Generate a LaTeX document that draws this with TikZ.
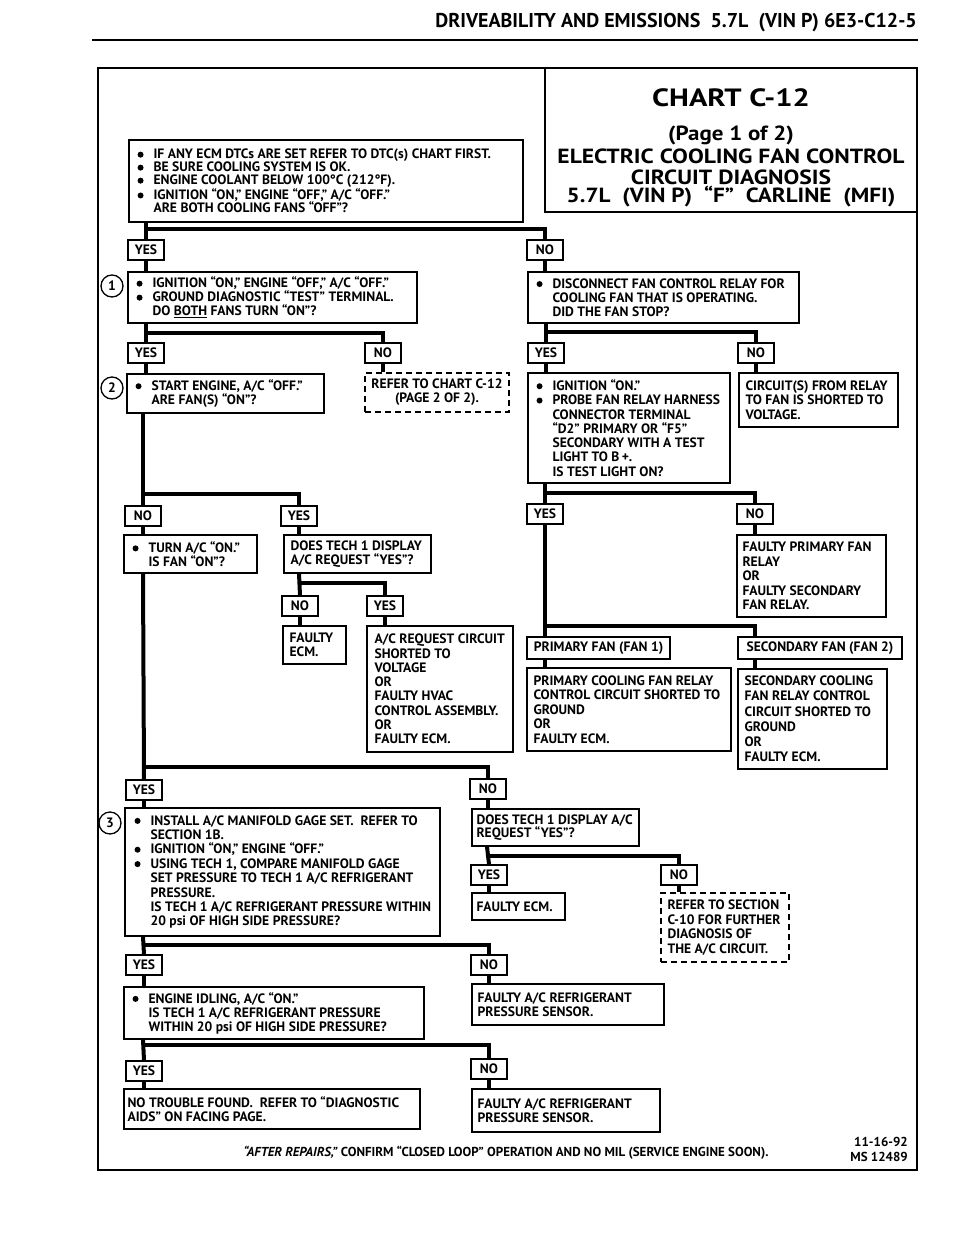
\documentclass[tikz,border=0pt]{standalone}
\usepackage{fontspec}
\setmainfont{PT Sans}
\usetikzlibrary{fit}
\newcommand\bigdot{\tikz[baseline=-4.2pt]\fill (0,0) circle (3pt);}
\newcommand\bul{\makebox[16pt][l]{\bigdot}}
\newcommand\indt{\hspace*{16pt}}
\newcommand\bx[6][box]{\node[#1, fit={(#3,#4) (#5,#6)}] (#2) {};}
\newcommand\tx[4]{\node[txt, font=\bfseries\fontsize{13.6}{#2}\selectfont] (t#1) at ([xshift=#3pt]#1.west) {#4};}
\newcommand\wide[2]{\scalebox{#1}[1]{#2}}
\begin{document}
\begin{tikzpicture}[x=1pt,y=-1pt,
 f12/.style={font=\bfseries\fontsize{13.6}{14}\selectfont},
 box/.style={draw, line width=1.3pt, inner sep=0pt},
 dbox/.style={box, dash pattern=on 6pt off 4pt},
 lab/.style={draw, line width=1.3pt, minimum width=36pt, minimum height=20pt, inner sep=0pt, f12},
 txt/.style={anchor=west, align=left, inner sep=0pt},
 conn/.style={line width=4pt},
 num/.style={circle, draw, line width=1.3pt, minimum size=22pt, inner sep=0pt, f12},
 ttl/.style={inner sep=0pt, font=\bfseries\fontsize{20.5}{22}\selectfont}
]
\useasboundingbox (0,0) rectangle (960,1250);
% header
\node[anchor=east, inner sep=0pt, font=\bfseries\fontsize{20}{22}\selectfont] (hdr) at (917,23) {DRIVEABILITY AND EMISSIONS\ \ 5.7L\ \ (VIN P) 6E3-C12-5};
\draw[line width=2.5pt] (92,40) -- (918,40);
% frame and title
\bx[box, line width=1.5pt]{title}{545}{68}{917}{212}
\draw[line width=2.5pt] (98,68) rectangle (917,1170);
\node[inner sep=0pt, font=\bfseries\fontsize{25}{28}\selectfont] (tt1) at (731,98) {\wide{1.22}{CHART C-12}};
\node[ttl] (tt2) at (731,135) {\wide{1.12}{(Page 1 of 2)}};
\node[ttl] (tt3) at (731,156) {\wide{1.15}{ELECTRIC COOLING FAN CONTROL}};
\node[ttl] (tt4) at (731,177) {\wide{1.15}{CIRCUIT DIAGNOSIS}};
\node[ttl] (tt5) at (731,197) {\wide{1.13}{5.7L\ \ (VIN P)\ \ “F”\ \ CARLINE\ \ (MFI)}};

% boxes
\bx{b0}{129}{140}{523}{222}
\tx{b0}{13}{9}{\bul IF ANY ECM DTCs ARE SET REFER TO DTC(s) CHART FIRST.\\
\bul BE SURE COOLING SYSTEM IS OK.\\
\bul ENGINE COOLANT BELOW 100°C (212°F).\\
\bul IGNITION “ON,” ENGINE “OFF,” A/C “OFF.”\\
\indt ARE BOTH COOLING FANS “OFF”?}

\bx{b1}{128}{272}{417}{323}
\tx{b1}{14}{9}{\bul IGNITION “ON,” ENGINE “OFF,” A/C “OFF.”\\
\bul GROUND DIAGNOSTIC “TEST” TERMINAL.\\
\indt DO \underline{BOTH} FANS TURN “ON”?}
\node[num] (c1) at (112,286) {1};

\bx{bR1}{528}{272}{799}{323}
\tx{bR1}{14}{9}{\bul DISCONNECT FAN CONTROL RELAY FOR\\
\indt COOLING FAN THAT IS OPERATING.\\
\indt DID THE FAN STOP?}

\bx{b2}{127}{374}{324}{413}
\tx{b2}{14}{9}{\bul START ENGINE, A/C “OFF.”\\
\indt ARE FAN(S) “ON”?}
\node[num] (c2) at (112,388) {2};

\bx[dbox]{bref1}{365}{373}{509}{412}
\node[f12, align=center, inner sep=0pt] (tbref1) at (bref1.center) {REFER TO CHART C-12\\(PAGE 2 OF 2).};

\bx{bR2}{528}{373}{730}{483}
\tx{bR2}{14.3}{9}{\bul IGNITION “ON.”\\
\bul PROBE FAN RELAY HARNESS\\
\indt CONNECTOR TERMINAL\\
\indt “D2” PRIMARY OR “F5”\\
\indt SECONDARY WITH A TEST\\
\indt LIGHT TO B\,+.\\
\indt IS TEST LIGHT ON?}

\bx{bR3}{739}{373}{898}{427}
\tx{bR3}{14.5}{7}{CIRCUIT(S) FROM RELAY\\TO FAN IS SHORTED TO\\VOLTAGE.}

\bx{bt}{124}{535}{257}{573}
\tx{bt}{13.5}{9}{\bul TURN A/C “ON.”\\
\indt IS FAN “ON”?}

\bx{bd1}{284}{535}{431}{573}
\tx{bd1}{13.5}{7}{DOES TECH 1 DISPLAY\\A/C REQUEST “YES”?}

\bx{bfe}{283}{626}{346}{664}
\tx{bfe}{13.5}{7}{FAULTY\\ECM.}

\bx{bac}{367}{626}{513}{752}
\tx{bac}{14.3}{8}{A/C REQUEST CIRCUIT\\SHORTED TO\\VOLTAGE\\OR\\FAULTY HVAC\\CONTROL ASSEMBLY.\\OR\\FAULTY ECM.}

\bx{bfp}{737}{535}{886}{617}
\tx{bfp}{14.5}{6}{FAULTY PRIMARY FAN\\RELAY\\OR\\FAULTY SECONDARY\\FAN RELAY.}

\bx{lpf}{527}{637}{670}{659}
\node[f12, inner sep=0pt] (tlpf) at (lpf.center) {PRIMARY FAN (FAN 1)};
\bx{lsf}{738}{637}{902}{659}
\node[f12, inner sep=0pt] (tlsf) at (lsf.center) {SECONDARY FAN (FAN 2)};

\bx{bpc}{527}{668}{731}{751}
\tx{bpc}{14.5}{7}{PRIMARY COOLING FAN RELAY\\CONTROL CIRCUIT SHORTED TO\\GROUND\\OR\\FAULTY ECM.}

\bx{bsc}{738}{669}{887}{769}
\tx{bsc}{15.2}{7}{SECONDARY COOLING\\FAN RELAY CONTROL\\CIRCUIT SHORTED TO\\GROUND\\OR\\FAULTY ECM.}

\bx{b3}{125}{808}{440}{936}
\tx{b3}{14.4}{10}{\bul INSTALL A/C MANIFOLD GAGE SET.\ \ REFER TO\\
\indt SECTION 1B.\\
\bul IGNITION “ON,” ENGINE “OFF.”\\
\bul USING TECH 1, COMPARE MANIFOLD GAGE\\
\indt SET PRESSURE TO TECH 1 A/C REFRIGERANT\\
\indt PRESSURE.\\
\indt IS TECH 1 A/C REFRIGERANT PRESSURE WITHIN\\
\indt 20 psi OF HIGH SIDE PRESSURE?}
\node[num] (c3) at (110,823) {3};

\bx{bd2}{472}{809}{639}{846}
\tx{bd2}{13.5}{5}{DOES TECH 1 DISPLAY A/C\\REQUEST “YES”?}

\bx{bfe2}{472}{893}{565}{920}
\tx{bfe2}{14}{5}{FAULTY ECM.}

\bx[dbox]{bref2}{661}{893}{789}{962}
\tx{bref2}{14.6}{7}{REFER TO SECTION\\C-10 FOR FURTHER\\DIAGNOSIS OF\\THE A/C CIRCUIT.}

\bx{bidle}{124}{987}{424}{1039}
\tx{bidle}{14}{9}{\bul ENGINE IDLING, A/C “ON.”\\
\indt IS TECH 1 A/C REFRIGERANT PRESSURE\\
\indt WITHIN 20 psi OF HIGH SIDE PRESSURE?}

\bx{bfa1}{472}{984}{664}{1025}
\tx{bfa1}{14}{6}{FAULTY A/C REFRIGERANT\\PRESSURE SENSOR.}

\bx{bntf}{124}{1089}{420}{1129}
\tx{bntf}{13.5}{4}{NO TROUBLE FOUND.\ \ REFER TO “DIAGNOSTIC\\AIDS” ON FACING PAGE.}

\bx{bfa2}{472}{1089}{660}{1132}
\tx{bfa2}{14}{6}{FAULTY A/C REFRIGERANT\\PRESSURE SENSOR.}

% labels
\node[lab] (y0) at (146,250) {YES};
\node[lab] (n0) at (545,250) {NO};
\node[lab] (y1) at (146,353) {YES};
\node[lab] (n1) at (383,353) {NO};
\node[lab] (yR) at (546,353) {YES};
\node[lab] (nR) at (756,353) {NO};
\node[lab] (n2) at (143,516) {NO};
\node[lab] (y2) at (299,516) {YES};
\node[lab] (nd) at (300,606) {NO};
\node[lab] (yd) at (385,606) {YES};
\node[lab] (yR2) at (545,514) {YES};
\node[lab] (nR2) at (755,514) {NO};
\node[lab] (y3) at (144,790) {YES};
\node[lab] (n3) at (488,789) {NO};
\node[lab] (yd2) at (489,875) {YES};
\node[lab] (nd2) at (679,875) {NO};
\node[lab] (y4) at (144,965) {YES};
\node[lab] (n4) at (489,965) {NO};
\node[lab] (y5) at (144,1071) {YES};
\node[lab] (n5) at (489,1069) {NO};

% junctions
\coordinate (j0) at (146,229);
\coordinate (j1) at (146,333);
\coordinate (jR) at (546,332);
\coordinate (j2) at (143,494);
\coordinate (jd) at (299,583);
\coordinate (jR2) at (545,493);
\coordinate (jR3) at (545,626);
\coordinate (j3) at (143,767);
\coordinate (jd2) at (487,856);
\coordinate (j4) at (143,945);
\coordinate (j5) at (143,1045);

% connectors
\draw[conn] (b0.south -| j0) -- (y0.north);
\draw[conn] (j0) -| (n0.north);
\draw[conn] (y0.south) -- (b1.north -| y0.south);
\draw[conn] (n0.south) -- (bR1.north -| n0.south);
\draw[conn] (b1.south -| j1) -- (y1.north);
\draw[conn] (j1) -| (n1.north);
\draw[conn] (y1.south) -- (b2.north -| y1.south);
\draw[conn] (n1.south) -- (bref1.north -| n1.south);
\draw[conn] (bR1.south -| jR) -- (yR.north);
\draw[conn] (jR) -| (nR.north);
\draw[conn] (yR.south) -- (bR2.north -| yR.south);
\draw[conn] (nR.south) -- (bR3.north -| nR.south);
\draw[conn] (b2.south -| j2) -- (n2.north);
\draw[conn] (j2) -| (y2.north);
\draw[conn] (n2.south) -- (bt.north -| n2.south);
\draw[conn] (y2.south) -- (bd1.north -| y2.south);
\draw[conn] (bd1.south -| jd) -- (nd.north);
\draw[conn] (jd) -| (yd.north);
\draw[conn] (nd.south) -- (bfe.north -| nd.south);
\draw[conn] (yd.south) -- (bac.north -| yd.south);
\draw[conn] (bR2.south -| jR2) -- (yR2.north);
\draw[conn] (jR2) -| (nR2.north);
\draw[conn] (nR2.south) -- (bfp.north -| nR2.south);
\draw[conn] (yR2.south) -- (lpf.north -| yR2.south);
\draw[conn] (jR3) -| (lsf.north -| nR2.south);
\draw[conn] (lpf.south -| yR2.south) -- (bpc.north -| yR2.south);
\draw[conn] (lsf.south -| nR2.south) -- (bsc.north -| nR2.south);
\draw[conn] (bt.south -| j3) -- (y3.north);
\draw[conn] (j3) -| (n3.north);
\draw[conn] (y3.south) -- (b3.north -| y3.south);
\draw[conn] (n3.south) -- (bd2.north -| n3.south);
\draw[conn] (bd2.south -| jd2) -- (yd2.north);
\draw[conn] (jd2) -| (nd2.north);
\draw[conn] (yd2.south) -- (bfe2.north -| yd2.south);
\draw[conn] (nd2.south) -- (bref2.north -| nd2.south);
\draw[conn] (b3.south -| j4) -- (y4.north);
\draw[conn] (j4) -| (n4.north);
\draw[conn] (y4.south) -- (bidle.north -| y4.south);
\draw[conn] (n4.south) -- (bfa1.north -| n4.south);
\draw[conn] (bidle.south -| j5) -- (y5.north);
\draw[conn] (j5) -| (n5.north);
\draw[conn] (y5.south) -- (bntf.north -| y5.south);
\draw[conn] (n5.south) -- (bfa2.north -| n5.south);

% footer
\node[inner sep=0pt, font=\bfseries\fontsize{13}{14}\selectfont] (foot) at (506,1153) {\textit{“AFTER REPAIRS,”} CONFIRM “CLOSED LOOP” OPERATION AND NO MIL (SERVICE ENGINE SOON).};
\node[inner sep=0pt, anchor=east, font=\bfseries\fontsize{13}{14}\selectfont] (date) at (908,1142) {11-16-92};
\node[inner sep=0pt, anchor=east, font=\bfseries\fontsize{13}{14}\selectfont] (ms) at (908,1157) {MS 12489};
\end{tikzpicture}
\end{document}
